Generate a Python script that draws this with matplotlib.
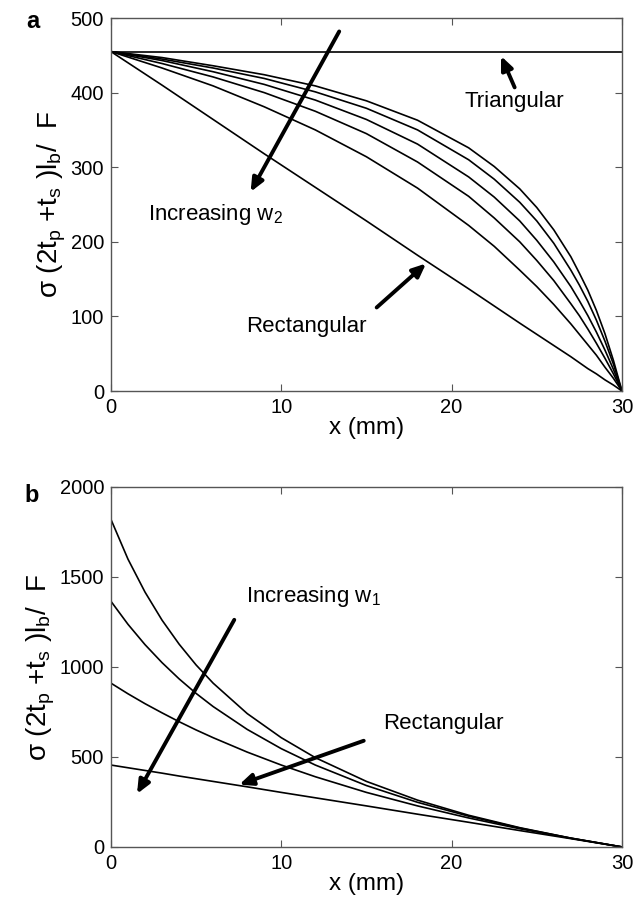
import numpy as np
import matplotlib
matplotlib.use("Agg")
import matplotlib.pyplot as plt

plt.rcParams['font.family'] = ['Liberation Sans', 'DejaVu Sans']
plt.rcParams['mathtext.fontset'] = 'custom'
plt.rcParams['mathtext.rm'] = 'Liberation Sans'
plt.rcParams['mathtext.it'] = 'Liberation Sans'

# ---- panel a: stress along the beam, varying w2 ----
xa = [0, 3, 6, 9, 12, 15, 18, 21, 22.5, 24, 25, 26, 27, 27.5, 28, 28.5, 29, 29.5, 30]
tri_a = [455] * len(xa)
w2_curves = [
    [455, 447, 436, 424, 409, 389, 363, 326, 301, 271, 246, 216, 180, 158, 135, 108, 77, 41, 0],
    [455, 445, 433, 419, 401, 379, 350, 310, 284, 253, 228, 198, 162, 142, 120, 95, 67, 36, 0],
    [455, 443, 428, 411, 390, 364, 331, 287, 260, 228, 202, 173, 140, 121, 101, 79, 55, 29, 0],
    [455, 439, 421, 400, 375, 345, 307, 261, 232, 200, 175, 148, 117, 101, 83, 64, 44, 23, 0],
    [455, 433, 409, 381, 350, 314, 272, 222, 194, 162, 140, 116, 90, 76, 62, 48, 32, 17, 0],
]
rect_a = [455, 410, 364, 318, 273, 228, 182, 137, 114, 91, 76, 61, 46, 38, 30, 23, 15, 8, 0]

# ---- panel b: stress along the beam, varying w1 ----
xb = [0, 1, 2, 3, 4, 5, 6, 8, 10, 12, 15, 18, 21, 24, 27, 30]
w1_curves = [
    [1820, 1599, 1416, 1260, 1127, 1011, 910, 741, 607, 496, 364, 260, 176, 107, 49, 0],
    [1365, 1237, 1124, 1024, 934, 853, 780, 653, 546, 455, 341, 248, 171, 105, 49, 0],
    [910, 851, 796, 745, 696, 650, 607, 527, 455, 390, 303, 228, 161, 101, 48, 0],
]
rect_b = [455, 440, 425, 410, 394, 379, 364, 334, 303, 273, 228, 182, 137, 91, 46, 0]

ylab = (r"$\sigma$ (2t$_\mathregular{p}$ +t$_\mathregular{s}$ )"
        r"l$_\mathregular{b}$/  F")
spine_col = "#555555"


def style_axes(ax, yticks):
    ax.set_xlim(0, 30)
    ax.set_xticks([0, 10, 20, 30])
    ax.set_yticks(yticks)
    ax.set_ylim(yticks[0], yticks[-1])
    ax.tick_params(direction="in", top=True, right=True, length=5,
                   labelsize=14.5, color=spine_col, pad=5)
    for s in ax.spines.values():
        s.set_color(spine_col)
        s.set_linewidth(1.0)
    ax.set_xlabel("x (mm)", fontsize=17.5, labelpad=0)
    ax.set_ylabel(ylab, fontsize=20, labelpad=2)


def arrow(ax, tail, head):
    ax.annotate("", xy=head, xytext=tail,
                arrowprops=dict(arrowstyle="-|>,head_length=0.8,head_width=0.35",
                                lw=2.8, color="black", shrinkA=0, shrinkB=0))


fig = plt.figure(figsize=(6.34, 9.01), dpi=100)

ax1 = fig.add_axes([0.175, 0.566, 0.806, 0.414])
ax1.plot(xa, tri_a, color="black", lw=1.2)
for c in w2_curves:
    ax1.plot(xa, c, color="black", lw=1.2)
ax1.plot(xa, rect_a, color="black", lw=1.2)
style_axes(ax1, [0, 100, 200, 300, 400, 500])
arrow(ax1, (13.4, 482), (8.2, 267))
arrow(ax1, (23.7, 407), (22.9, 449))
arrow(ax1, (15.6, 112), (18.5, 171))
ax1.text(2.2, 236, r"Increasing w$_\mathregular{2}$", fontsize=16, va="center")
ax1.text(23.7, 388, "Triangular", fontsize=16, ha="center", va="center")
ax1.text(11.5, 87, "Rectangular", fontsize=16, ha="center", va="center")
fig.text(33 / 634, 1 - 21 / 901, "a", fontsize=17, fontweight="bold",
         ha="center", va="center")

ax2 = fig.add_axes([0.175, 0.060, 0.806, 0.3995])
for c in w1_curves:
    ax2.plot(xb, c, color="black", lw=1.2)
ax2.plot(xb, rect_b, color="black", lw=1.2)
style_axes(ax2, [0, 500, 1000, 1500, 2000])
arrow(ax2, (7.24, 1262), (1.53, 295))
arrow(ax2, (14.84, 590), (7.53, 346))
ax2.text(7.9, 1391, r"Increasing w$_\mathregular{1}$", fontsize=16, va="center")
ax2.text(19.5, 687, "Rectangular", fontsize=16, ha="center", va="center")
fig.text(32 / 634, 1 - 496 / 901, "b", fontsize=17, fontweight="bold",
         ha="center", va="center")

fig.savefig("out.png", dpi=100)
